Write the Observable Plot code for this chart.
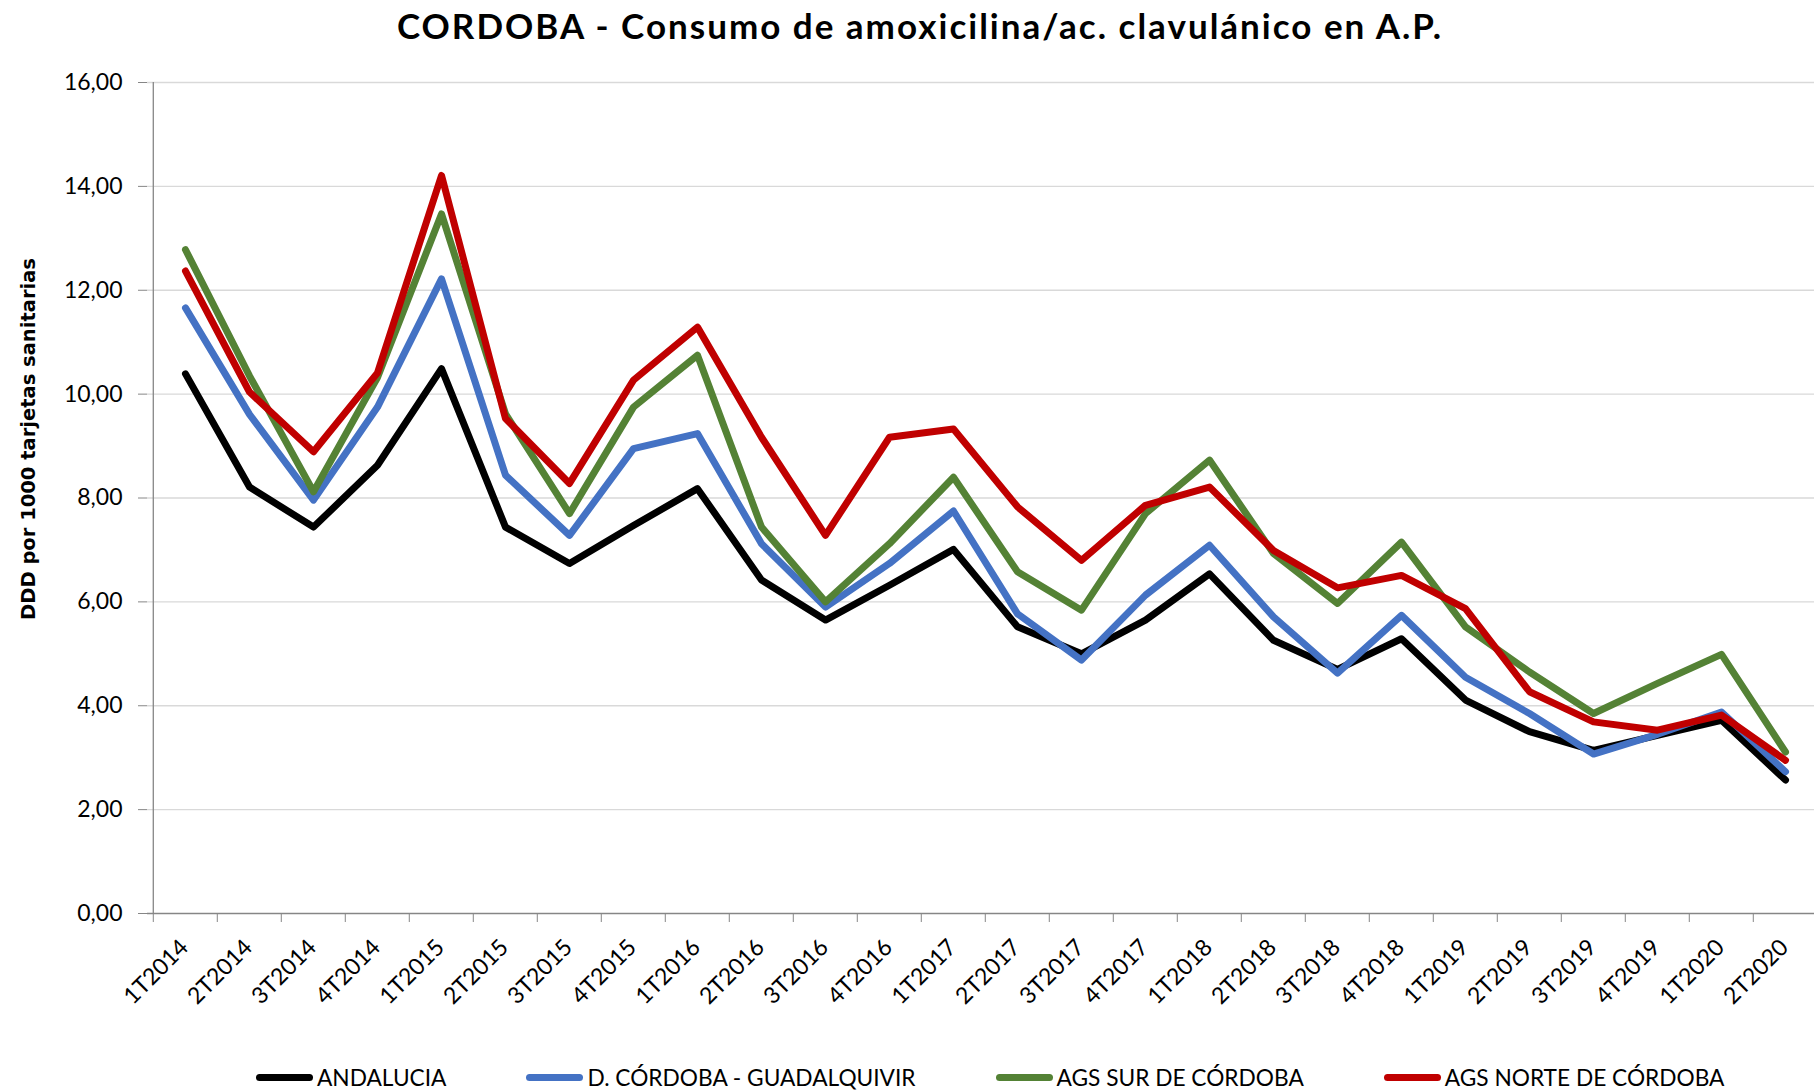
<!DOCTYPE html>
<html>
<head>
<meta charset="utf-8">
<script src="https://cdn.jsdelivr.net/npm/d3@7"></script>
<script src="https://cdn.jsdelivr.net/npm/@observablehq/plot@0.6"></script>
<style>
  html, body { margin: 0; padding: 0; background: #fff; overflow: hidden; }
  #wrap { position: relative; width: 1814px; height: 1091px; }
  #title { height: 50px; line-height: 50px; box-sizing: border-box; padding-left: 26px; text-align: center;
           font-family: Lato, sans-serif; font-weight: bold; font-size: 35px; letter-spacing: 2px; color: #000; white-space: nowrap; }
  #legend { position: absolute; left: 256px; top: 1062px; height: 30px; display: flex; align-items: center;
            font-family: Lato, sans-serif; font-size: 22.7px; color: #000; white-space: nowrap; }
  .item { display: flex; align-items: center; margin-right: 80px; }
  .sw { width: 57px; height: 7px; border-radius: 4px; margin-right: 4px; }
</style>
</head>
<body>
<div id="wrap">
  <div id="title"></div>
  <div id="chart"></div>
  <div id="legend"></div>
</div>
<script>
// ---- data ----
const titleText = "CORDOBA - Consumo de amoxicilina/ac. clavulánico en A.P.";
const yTitle = "DDD por 1000 tarjetas sanitarias";
const categories = ["1T2014","2T2014","3T2014","4T2014","1T2015","2T2015","3T2015","4T2015","1T2016","2T2016","3T2016","4T2016","1T2017","2T2017","3T2017","4T2017","1T2018","2T2018","3T2018","4T2018","1T2019","2T2019","3T2019","4T2019","1T2020","2T2020"];
const seriesNames = ["ANDALUCIA", "D. CÓRDOBA - GUADALQUIVIR", "AGS SUR DE CÓRDOBA", "AGS NORTE DE CÓRDOBA"];
const andalucia = [10.39, 8.21, 7.44, 8.63, 10.49, 7.44, 6.74, 7.47, 8.18, 6.42, 5.65, 6.32, 7.01, 5.52, 5.00, 5.65, 6.54, 5.26, 4.70, 5.29, 4.11, 3.50, 3.14, 3.43, 3.72, 2.57];
const cordobaGuadalquivir = [11.66, 9.61, 7.96, 9.75, 12.22, 8.44, 7.28, 8.95, 9.24, 7.12, 5.90, 6.74, 7.75, 5.77, 4.88, 6.13, 7.09, 5.71, 4.63, 5.74, 4.55, 3.85, 3.07, 3.45, 3.88, 2.73];
const agsSur = [12.78, 10.35, 8.12, 10.32, 13.47, 9.62, 7.70, 9.75, 10.75, 7.44, 6.00, 7.12, 8.40, 6.58, 5.84, 7.70, 8.73, 6.93, 5.97, 7.15, 5.52, 4.65, 3.85, 4.43, 4.99, 3.11];
const agsNorte = [12.37, 10.04, 8.89, 10.41, 14.21, 9.53, 8.28, 10.27, 11.29, 9.17, 7.28, 9.17, 9.33, 7.83, 6.80, 7.86, 8.21, 6.99, 6.27, 6.51, 5.87, 4.27, 3.69, 3.53, 3.82, 2.95];
const yTicks = [0, 2, 4, 6, 8, 10, 12, 14, 16];
const colors = ["#000000", "#4472C4", "#548235", "#C00000"];

// ---- layout ----
const W = 1814, H = 990;
const xRange = [147, 1822];
const step = (xRange[1] - xRange[0]) / categories.length;
const valuesList = [andalucia, cordobaGuadalquivir, agsSur, agsNorte];
const seriesRows = valuesList.map((vals, k) => categories.map((c, i) => ({cat: c, value: vals[i], name: seriesNames[k]})));
const fmt = d => d.toFixed(2).replace(".", ",");
const axisGray = "#868686";

document.getElementById("title").textContent = titleText;

const chart = Plot.plot({
  width: W, height: H,
  marginTop: 32, marginBottom: 127, marginLeft: 147, marginRight: 0,
  style: {fontFamily: "Lato, sans-serif", fontSize: "23px", color: "#000", background: "white", overflow: "visible"},
  x: {type: "point", domain: categories, padding: 0.5, range: xRange, label: null},
  y: {domain: [0, 16], label: null},
  color: {domain: seriesNames, range: colors},
  marks: [
    Plot.gridY(yTicks.slice(1), {stroke: "#d9d9d9", strokeOpacity: 1, strokeWidth: 1.3}),
    Plot.axisY(yTicks, {tickSize: 9, tickPadding: 16, tickFormat: fmt, stroke: axisGray, fill: "#000", fontSize: 23, label: null}),
    Plot.ruleY([0], {stroke: axisGray, strokeWidth: 1.3}),
    Plot.ruleX([categories[0]], {y1: 0, y2: 16, dx: -step / 2, stroke: axisGray, strokeWidth: 1.3}),
    Plot.axisX(categories, {tickSize: 9, tickFormat: () => "", dx: -step / 2, stroke: axisGray, label: null}),
    Plot.axisX(categories, {tickSize: 0, tickPadding: 30, tickRotate: -45, dx: -1, fill: "#000", fontSize: 23, label: null}),
    ...seriesRows.map(rows => Plot.lineY(rows, {x: "cat", y: "value", stroke: "name", strokeWidth: 7, strokeLinejoin: "round", strokeLinecap: "round"})),
    Plot.text([yTitle], {frameAnchor: "left", text: d => d, rotate: -90, textAnchor: "middle", dx: -119, dy: -59, fontFamily: "DejaVu Sans", fontWeight: "bold", fontSize: 19.5, fill: "#000"})
  ]
});
document.getElementById("chart").appendChild(chart);

const legend = document.getElementById("legend");
seriesNames.forEach((n, k) => {
  const it = document.createElement("div");
  it.className = "item";
  const sw = document.createElement("div");
  sw.className = "sw";
  sw.style.background = colors[k];
  const tx = document.createElement("span");
  tx.textContent = n;
  it.appendChild(sw); it.appendChild(tx);
  legend.appendChild(it);
});
</script>
</body>
</html>
